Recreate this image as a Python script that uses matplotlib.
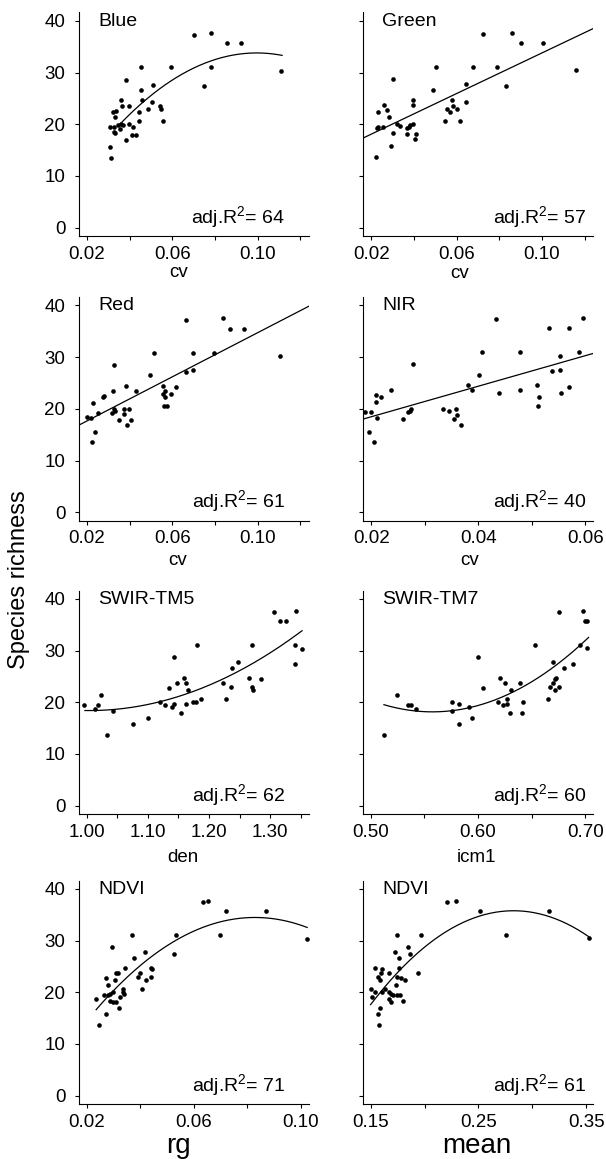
import numpy as np
import matplotlib
matplotlib.use("Agg")
import matplotlib.pyplot as plt

plt.rcParams['font.family'] = ['Liberation Sans', 'DejaVu Sans']
plt.rcParams['mathtext.fontset'] = 'custom'
plt.rcParams['mathtext.rm'] = 'Liberation Sans'
plt.rcParams['mathtext.it'] = 'Liberation Sans:italic'

# ---- data ----
blue_cv = [0.070, 0.078, 0.0855, 0.0923, 0.111, 0.078, 0.0748, 0.0592, 0.0453, 0.0384,
           0.0453, 0.0509, 0.0456, 0.0505, 0.0544, 0.0548, 0.0484, 0.0445, 0.0556, 0.0445,
           0.0361, 0.0364, 0.0395, 0.0322, 0.0336, 0.0333, 0.0309, 0.0325, 0.0345, 0.0360,
           0.0367, 0.0353, 0.0328, 0.0330, 0.0395, 0.0414, 0.0411, 0.0430, 0.0384, 0.0309,
           0.0314]
blue_rich = [37.3, 37.6, 35.7, 35.7, 30.3, 31.0, 27.3, 31.0, 31.0, 28.6,
             26.6, 27.6, 24.6, 24.3, 23.6, 23.0, 23.0, 22.3, 20.6, 20.6,
             24.7, 23.6, 23.6, 22.3, 22.6, 21.4, 19.4, 19.4, 19.9, 20.0,
             19.8, 19.0, 18.5, 18.3, 20.0, 19.4, 17.9, 17.9, 17.0, 15.6,
             13.5]

green_cv = [0.0723, 0.0859, 0.0902, 0.1003, 0.1161, 0.0505, 0.0678, 0.0790, 0.0830, 0.0303,
            0.0488, 0.0642, 0.0580, 0.0644, 0.0397, 0.0397, 0.0259, 0.0275, 0.0234, 0.0283,
            0.0556, 0.0569, 0.0581, 0.0603, 0.0547, 0.0616, 0.0227, 0.0233, 0.0255, 0.0320,
            0.0336, 0.0369, 0.0377, 0.0383, 0.0394, 0.0367, 0.0411, 0.0405, 0.0300, 0.0294,
            0.0223]
green_rich = [37.4, 37.7, 35.7, 35.7, 30.4, 31.1, 31.1, 31.1, 27.4, 28.7,
              26.7, 27.7, 24.7, 24.3, 24.7, 23.7, 23.7, 22.7, 22.4, 21.4,
              23.0, 22.3, 23.6, 23.0, 20.7, 20.7, 19.2, 19.4, 19.4, 20.1,
              19.7, 19.3, 19.5, 19.9, 20.1, 18.1, 18.1, 17.1, 18.4, 15.7,
              13.7]

red_cv = [0.0664, 0.0838, 0.0872, 0.0936, 0.1103, 0.0513, 0.0695, 0.0797, 0.0666, 0.0695,
          0.0325, 0.0497, 0.0619, 0.0558, 0.0567, 0.0555, 0.0595, 0.0566, 0.0562, 0.0575,
          0.0384, 0.0320, 0.0428, 0.0273, 0.0278, 0.0227, 0.0198, 0.0219, 0.0252, 0.0317,
          0.0328, 0.0333, 0.0372, 0.0375, 0.0398, 0.0352, 0.0405, 0.0386, 0.0239, 0.0223]
red_rich = [37.1, 37.5, 35.5, 35.5, 30.2, 30.8, 30.8, 30.8, 27.2, 27.5,
            28.5, 26.5, 24.2, 24.5, 23.5, 22.9, 22.9, 22.2, 20.6, 20.6,
            24.5, 23.5, 23.5, 22.3, 22.5, 21.2, 18.5, 18.3, 19.2, 19.2,
            19.9, 19.5, 19.9, 19.1, 19.9, 17.9, 17.9, 16.9, 15.6, 13.5]

nir_cv = [0.0433, 0.0595, 0.0533, 0.0569, 0.0408, 0.0478, 0.0589, 0.0553, 0.0278, 0.0538,
          0.0553, 0.0401, 0.0380, 0.0509, 0.0570, 0.0388, 0.0478, 0.0237, 0.0439, 0.0555,
          0.0513, 0.0511, 0.0208, 0.0219, 0.0209, 0.0188, 0.0200, 0.0211, 0.0196, 0.0206,
          0.0260, 0.0269, 0.0272, 0.0274, 0.0334, 0.0346, 0.0358, 0.0361, 0.0354, 0.0368]
nir_rich = [37.3, 37.6, 35.6, 35.6, 31.0, 31.0, 31.0, 30.3, 28.7, 27.3,
            27.6, 26.6, 24.6, 24.6, 24.3, 23.6, 23.6, 23.6, 23.0, 23.0,
            22.3, 20.6, 22.6, 22.3, 21.3, 19.3, 19.3, 18.3, 15.6, 13.6,
            18.0, 19.3, 19.6, 20.0, 20.0, 19.6, 20.0, 18.9, 18.0, 16.9]

tm5_den = [1.3065, 1.3415, 1.3164, 1.3262, 1.3399, 1.3520, 1.3410, 1.1806, 1.2704, 1.1434,
           1.2375, 1.2480, 1.1582, 1.1352, 1.1483, 1.1626, 1.1648, 1.2233, 1.2354, 1.2655,
           1.2710, 1.2726, 1.2841, 1.1429, 1.1401, 1.1286, 1.1193, 1.1615, 1.1730, 1.1784,
           1.1861, 1.2277, 1.1533, 1.1002, 1.0761, 1.0323, 0.9951, 1.0137, 1.0181, 1.0230,
           1.0427]
tm5_rich = [37.4, 37.7, 35.7, 35.7, 31.0, 30.3, 27.4, 31.0, 31.0, 28.7,
            26.7, 27.7, 24.7, 22.7, 23.7, 23.7, 22.4, 23.7, 23.0, 24.7,
            23.0, 22.4, 24.4, 19.7, 19.0, 19.4, 20.0, 19.7, 20.0, 20.0,
            20.7, 20.7, 18.0, 17.0, 15.7, 13.7, 19.4, 18.7, 19.4, 21.4,
            18.4]

tm7_icm1 = [0.6750, 0.6978, 0.7000, 0.7019, 0.6528, 0.6950, 0.7016, 0.6003, 0.6700, 0.6881,
            0.6797, 0.6050, 0.6209, 0.6250, 0.6394, 0.6306, 0.6728, 0.6716, 0.6703, 0.6672,
            0.6750, 0.6719, 0.6656, 0.6272, 0.6184, 0.6231, 0.6272, 0.6419, 0.5913, 0.5763,
            0.5828, 0.5756, 0.6300, 0.6406, 0.5944, 0.5822, 0.5125, 0.5250, 0.5350, 0.5375,
            0.5425]
tm7_rich = [37.4, 37.7, 35.7, 35.7, 31.0, 31.0, 30.5, 28.7, 27.7, 27.4,
            26.7, 22.7, 24.7, 23.7, 23.7, 22.4, 24.7, 24.4, 23.7, 23.0,
            23.0, 22.4, 20.7, 20.7, 20.0, 19.4, 19.7, 20.0, 19.0, 20.0,
            19.7, 18.4, 18.0, 18.0, 17.0, 15.7, 13.7, 21.4, 19.4, 19.4,
            18.6]

ndvi_rg = [0.0633, 0.0653, 0.0720, 0.0868, 0.0699, 0.0534, 0.1023, 0.0526, 0.0369, 0.0295,
           0.0376, 0.0416, 0.0341, 0.0310, 0.0315, 0.0440, 0.0443, 0.0438, 0.0398, 0.0393,
           0.0421, 0.0270, 0.0305, 0.0278, 0.0408, 0.0335, 0.0340, 0.0334, 0.0265, 0.0280,
           0.0288, 0.0298, 0.0235, 0.0288, 0.0298, 0.0308, 0.0323, 0.0321, 0.0270, 0.0244]
ndvi_rg_rich = [37.4, 37.7, 35.7, 35.7, 31.0, 31.0, 30.3, 27.4, 31.0, 28.7,
                26.7, 27.7, 24.7, 23.7, 23.7, 24.7, 24.4, 23.0, 23.7, 23.0,
                22.4, 22.7, 22.4, 21.4, 20.7, 20.7, 19.7, 20.1, 19.4, 19.4,
                19.7, 20.1, 18.7, 18.4, 18.1, 18.1, 19.1, 17.0, 15.7, 13.7]

ndvi_mean = [0.2209, 0.2290, 0.2511, 0.3155, 0.2753, 0.3522, 0.1749, 0.1963, 0.1730, 0.1764,
             0.1851, 0.1867, 0.1761, 0.1540, 0.1606, 0.1596, 0.1671, 0.1935, 0.1565, 0.1590,
             0.1746, 0.1786, 0.1820, 0.1634, 0.1733, 0.1500, 0.1540, 0.1603, 0.1674, 0.1687,
             0.1708, 0.1749, 0.1771, 0.1509, 0.1674, 0.1690, 0.1802, 0.1584, 0.1572, 0.1578]
ndvi_mean_rich = [37.4, 37.7, 35.7, 35.7, 31.0, 30.4, 31.0, 31.0, 27.7, 26.7,
                  28.7, 27.4, 24.7, 24.7, 24.4, 23.7, 23.7, 23.7, 23.0, 22.4,
                  23.0, 22.7, 22.4, 20.7, 21.4, 20.7, 20.1, 20.1, 20.1, 19.7,
                  19.4, 19.4, 19.4, 19.1, 18.7, 18.1, 18.4, 17.0, 15.7, 13.7]

band_names = ["Blue", "Green", "Red", "NIR", "SWIR-TM5", "SWIR-TM7", "NDVI", "NDVI"]
metric_names = ["cv", "cv", "cv", "cv", "den", "icm1", "rg", "mean"]
adj_r2 = [64, 57, 61, 40, 62, 60, 71, 61]
fit_degree = [2, 1, 1, 1, 2, 2, 2, 2]
# x range covered by the drawn regression curve (None = whole axis)
fit_range = [(0.0356, 0.1114), None, None, None,
             (0.997, 1.352), (0.5125, 0.703), (0.0235, 0.1023), (0.150, 0.3522)]
x_data = [blue_cv, green_cv, red_cv, nir_cv, tm5_den, tm7_icm1, ndvi_rg, ndvi_mean]
y_data = [blue_rich, green_rich, red_rich, nir_rich, tm5_rich, tm7_rich,
          ndvi_rg_rich, ndvi_mean_rich]

x_limits = [(0.016, 0.124), (0.016, 0.124), (0.016, 0.124), (0.0184, 0.0615),
            (0.9865, 1.3634), (0.4927, 0.7073), (0.0169, 0.103), (0.1427, 0.3563)]
x_ticks = [np.arange(0.02, 0.121, 0.02), np.arange(0.02, 0.121, 0.02),
           np.arange(0.02, 0.121, 0.02), np.arange(0.02, 0.061, 0.01),
           np.arange(1.00, 1.351, 0.05), np.arange(0.50, 0.701, 0.05),
           np.arange(0.02, 0.101, 0.02), np.arange(0.15, 0.351, 0.05)]
x_fmt = ["{:.2f}", "{:.2f}", "{:.2f}", "{:.2f}", "{:.2f}", "{:.2f}", "{:.2f}", "{:.2f}"]
y_ticks = [0, 10, 20, 30, 40]

# ---- layout (pixels of the 606 x 1159 figure) ----
W, H = 606, 1159
col_left = [78.5, 362.7]
ax_w = 230.5
row_bottom = [236, 520.6, 814, 1104]
ax_h = 223.5
xlabel_x = [0.436, 0.421, 0.432, 0.465, 0.452, 0.492, 0.432, 0.496]
xlabel_drop = [41, 42, 44, 44, 48, 48, 49, 49]

fig = plt.figure(figsize=(W / 100, H / 100), dpi=100)

for i in range(8):
    row, col = divmod(i, 2)
    ax = fig.add_axes([col_left[col] / W, 1 - row_bottom[row] / H, ax_w / W, ax_h / H])
    x = np.array(x_data[i])
    y = np.array(y_data[i])
    ax.scatter(x, y, s=11, color="black", linewidths=0, zorder=3)

    coef = np.polyfit(x, y, fit_degree[i])
    if fit_range[i] is None:
        xs = np.linspace(*x_limits[i], 200)
    else:
        xs = np.linspace(*fit_range[i], 200)
    ax.plot(xs, np.polyval(coef, xs), color="black", lw=0.9)

    ax.set_xlim(*x_limits[i])
    ax.set_ylim(-1.6, 41.6)
    ax.set_yticks(y_ticks)
    ax.set_yticklabels([str(v) for v in y_ticks] if col == 0 else [])
    ticks = x_ticks[i]
    ax.set_xticks(ticks)
    ax.set_xticklabels([x_fmt[i].format(t) if k % 2 == 0 else "" for k, t in enumerate(ticks)])

    for side in ("top", "right"):
        ax.spines[side].set_visible(False)
    for side in ("left", "bottom"):
        ax.spines[side].set_linewidth(0.8)
    ax.tick_params(axis="both", direction="out", length=3, width=0.8, labelsize=13.5)
    ax.tick_params(axis="y", pad=6.5)
    ax.tick_params(axis="x", pad=4)

    ax.text(0.085, 1 - 13.3 / ax_h, band_names[i], transform=ax.transAxes,
            fontsize=14, ha="left", va="baseline")
    r2_right = 1 - 24 / ax_w if col == 0 else 1 - 7 / ax_w
    ax.text(r2_right, 13 / ax_h, r"adj.R$^{2}$= %d" % adj_r2[i], transform=ax.transAxes,
            fontsize=14, ha="right", va="baseline")

    big = row == 3
    ax.text(xlabel_x[i], -xlabel_drop[i] / ax_h, metric_names[i], transform=ax.transAxes,
            fontsize=20 if big else 13.5, ha="center", va="baseline")

fig.text(30 / W, 1 - 580 / H, "Species richness", rotation=90, fontsize=17,
         ha="right", va="center")

fig.savefig("out.png", dpi=100)
